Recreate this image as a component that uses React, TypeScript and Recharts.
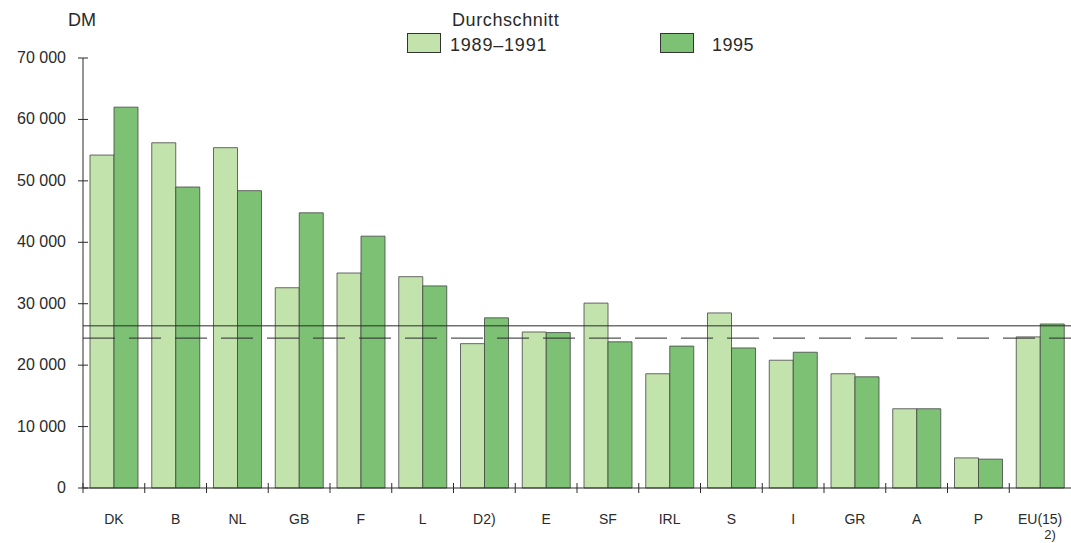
import React from "react";
import {
  BarChart,
  Bar,
  XAxis,
  YAxis,
  ReferenceLine,
} from "recharts";

// Values in DM
const countries = ["DK", "B", "NL", "GB", "F", "L", "D2)", "E", "SF", "IRL", "S", "I", "GR", "A", "P", "EU(15) 2)"];
const avg1989to1991 = [54200, 56200, 55400, 32600, 35000, 34400, 23500, 25400, 30100, 18600, 28500, 20800, 18600, 12900, 4900, 24600];
const year1995 = [62000, 49000, 48400, 44800, 41000, 32900, 27700, 25300, 23800, 23100, 22800, 22100, 18100, 12900, 4700, 26700];
const yTicks = [0, 10000, 20000, 30000, 40000, 50000, 60000, 70000];
const euAvg1989to1991 = 24400;
const euAvg1995 = 26400;

const data = countries.map((c, i) => ({
  name: c,
  a: avg1989to1991[i],
  b: year1995[i],
}));

const FONT = '"Liberation Sans", Arial, sans-serif';
const LIGHT = "#c3e3ad";
const DARK = "#7dc274";
const INK = "#2a2a2a";

const W = 1071;
const H = 543;
const LEFT = 83;
const BAND = (W - LEFT) / countries.length;

const fmt = (v: number) => String(v).replace(/\B(?=(\d{3})+(?!\d))/g, " ");

const YTick = (props: any) => {
  const { x, y, payload } = props;
  return (
    <g>
      <line x1={x - 5} x2={x + 5} y1={y} y2={y} stroke={INK} strokeWidth={1} />
      <text x={x - 17} y={y + 5} textAnchor="end" fontSize={16} fill={INK} fontFamily={FONT}>
        {fmt(payload.value)}
      </text>
    </g>
  );
};

const XTick = (props: any) => {
  const { x, y, payload } = props;
  const parts = String(payload.value).split(" ");
  const left = x - BAND / 2;
  return (
    <g>
      <line x1={left} x2={left} y1={y - 5} y2={y + 5} stroke={INK} strokeWidth={1} />
      <text x={x} y={y + 36} textAnchor="middle" fontSize={14} fill={INK} fontFamily={FONT}>
        {parts[0]}
      </text>
      {parts[1] && (
        <text x={x + 10} y={y + 51} textAnchor="middle" fontSize={13} fill={INK} fontFamily={FONT}>
          {parts[1]}
        </text>
      )}
    </g>
  );
};

const App = () => (
  <div style={{ position: "absolute", left: 0, top: 0, width: W, height: H, overflow: "hidden", background: "#fff", fontFamily: FONT }}>
    <div style={{ position: "absolute", left: 68, top: 10, fontSize: 18, color: INK }}>DM</div>
    <div style={{ position: "absolute", left: 452, top: 10, fontSize: 18, color: INK, letterSpacing: 0.6 }}>Durchschnitt</div>
    <div style={{ position: "absolute", left: 407, top: 33, width: 32, height: 18, background: LIGHT, border: "1px solid #333" }} />
    <div style={{ position: "absolute", left: 450, top: 35, fontSize: 18, color: INK, letterSpacing: 0.8 }}>1989–1991</div>
    <div style={{ position: "absolute", left: 660, top: 33, width: 32, height: 18, background: DARK, border: "1px solid #333" }} />
    <div style={{ position: "absolute", left: 712, top: 35, fontSize: 18, color: INK, letterSpacing: 0.5 }}>1995</div>
    <BarChart
      width={W}
      height={H}
      data={data}
      margin={{ top: 58, right: 0, bottom: 25, left: 0 }}
      barGap={0}
      barSize={24}
    >
      <XAxis
        dataKey="name"
        interval={0}
        height={30}
        tickSize={0}
        tickMargin={0}
        tick={<XTick />}
        axisLine={{ stroke: INK, strokeWidth: 1 }}
      />
      <YAxis
        width={LEFT}
        domain={[0, 70000]}
        ticks={yTicks}
        tickSize={0}
        tickMargin={0}
        tick={<YTick />}
        axisLine={{ stroke: INK, strokeWidth: 1 }}
        interval={0}
      />
      <Bar dataKey="a" fill={LIGHT} stroke="#444" strokeWidth={0.8} isAnimationActive={false} />
      <Bar dataKey="b" fill={DARK} stroke="#444" strokeWidth={0.8} isAnimationActive={false} />
      <ReferenceLine y={euAvg1995} stroke={INK} strokeWidth={1} />
      <ReferenceLine y={euAvg1989to1991} stroke={INK} strokeWidth={1} strokeDasharray="32 14" />
    </BarChart>
  </div>
);

export default App;
